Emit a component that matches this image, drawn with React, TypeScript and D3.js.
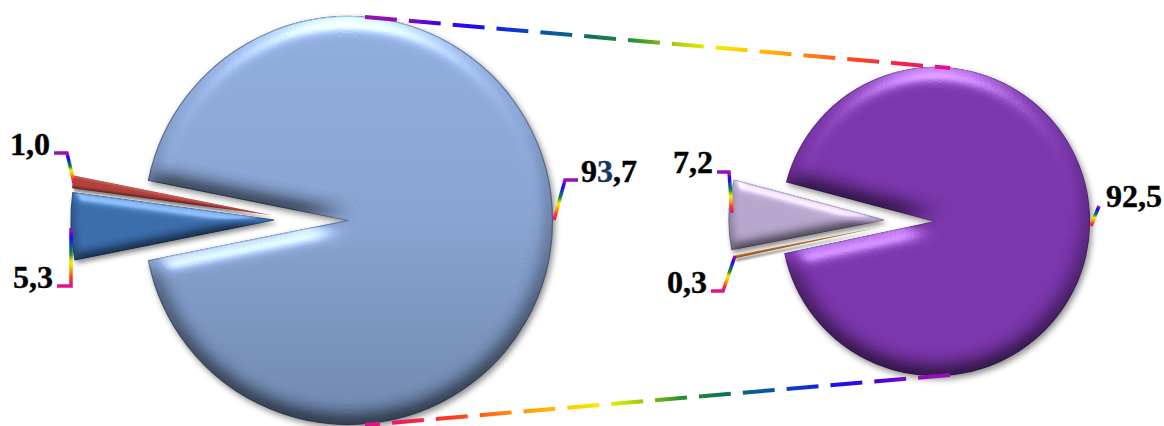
import { useMemo } from "react";
import * as d3 from "d3";

const width = 1164;
const height = 426;

// chart values
const leftLabels = ["93,7", "5,3", "1,0"];
const leftValues = [93.7, 5.3, 1.0];
const rightLabels = ["92,5", "0,3", "7,2"];
const rightValues = [92.5, 0.3, 7.2];

const deg = Math.PI / 180;

// layout of the two pies, one center per slice because they are pulled apart
const leftPie = {
  start: -78.66 * deg,
  radius: [204, 203, 203],
  centers: [[348.5, 220.5], [274, 220], [273, 215.5]],
  fills: ["url(#leftMain)", "#3a6cab", "#b0413c"],
  rims: ["#5d7396", "#2b5488", "none"],
  filters: ["url(#bevelBig)", "url(#bevelMid)", "url(#bevelThin)"],
};
const rightPie = {
  start: -75.1 * deg,
  radius: [154, 150, 155],
  centers: [[935.5, 221.5], [881, 227], [884, 220]],
  fills: ["#7834a8", "#b86a20", "#b5a5cb"],
  rims: ["#5f2a85", "none", "#8f82a5"],
  filters: ["url(#bevelBig)", "url(#bevelThin)", "url(#bevelMid)"],
};

const rainbow = [
  [0, "#9a10b0"],
  [0.06, "#8a10b8"],
  [0.12, "#4a00e0"],
  [0.2, "#1414f0"],
  [0.3, "#0a50b0"],
  [0.38, "#0a7060"],
  [0.46, "#2a9030"],
  [0.53, "#a8cc10"],
  [0.59, "#f4f000"],
  [0.67, "#ffc000"],
  [0.75, "#ff8a10"],
  [0.84, "#ff4020"],
  [0.93, "#f02050"],
  [1, "#e01090"],
] as const;

// purple end first
const connectors = [
  [[365, 17], [950, 68]],
  [[950, 375], [365, 425]],
];
const leaders = [
  [[54, 153], [67, 153], [74, 183]],
  [[71, 228], [71, 286], [57, 286]],
  [[578, 180], [565, 180], [554, 220]],
  [[717, 172], [729, 172], [732, 213]],
  [[735, 256], [723, 291], [711, 291]],
  [[1099, 206], [1091, 226]],
];
const texts: { label: string; x: number; y: number }[] = [
  { label: leftLabels[2], x: 10, y: 155 },
  { label: leftLabels[1], x: 13, y: 288 },
  { label: rightLabels[2], x: 673, y: 173 },
  { label: rightLabels[1], x: 667, y: 293 },
  { label: rightLabels[0], x: 1106, y: 207 },
];

function Bevel({ id, blur, scale, shadow, spec }: { id: string; blur: number; scale: number; shadow: number; spec: number }) {
  return (
    <filter
      id={id}
      filterUnits="userSpaceOnUse"
      x={0}
      y={0}
      width={width}
      height={height}
      colorInterpolationFilters="sRGB"
    >
      <feGaussianBlur in="SourceAlpha" stdDeviation={blur} result="h" />
      <feDiffuseLighting in="h" surfaceScale={scale} diffuseConstant={1.155} lightingColor="#fff" result="diff">
        <feDistantLight azimuth={270} elevation={60} />
      </feDiffuseLighting>
      <feSpecularLighting in="h" surfaceScale={scale} specularConstant={spec} specularExponent={30} lightingColor="#fff" result="spec">
        <feDistantLight azimuth={270} elevation={35} />
      </feSpecularLighting>
      <feComposite in="spec" in2="SourceAlpha" operator="in" result="specIn" />
      <feComposite in="SourceGraphic" in2="diff" operator="arithmetic" k1={1} k2={0} k3={0} k4={0} result="lit" />
      <feComposite in="lit" in2="specIn" operator="arithmetic" k1={0} k2={1} k3={1} k4={0} result="done" />
      <feGaussianBlur in="SourceAlpha" stdDeviation={shadow} result="sb" />
      <feOffset in="sb" dx={2} dy={3} result="so" />
      <feFlood floodColor="#000" floodOpacity={0.45} />
      <feComposite in2="so" operator="in" result="sc" />
      <feMerge>
        <feMergeNode in="sc" />
        <feMergeNode in="done" />
      </feMerge>
    </filter>
  );
}

function Pie({ values, cfg }: { values: number[]; cfg: typeof leftPie }) {
  const slices = useMemo(
    () =>
      d3
        .pie<number>()
        .sort(null)
        .startAngle(cfg.start)
        .endAngle(cfg.start + 2 * Math.PI)(values),
    [values, cfg]
  );
  return (
    <g>
      {slices.map((s, i) => {
        const path = d3.arc<d3.PieArcDatum<number>>().innerRadius(0).outerRadius(cfg.radius[i])(s) ?? "";
        // filter sits on the outer g so its region stays in page coordinates
        return (
          <g key={i} filter={cfg.filters[i]}>
            <path
              d={path}
              transform={`translate(${cfg.centers[i][0]},${cfg.centers[i][1]})`}
              fill={cfg.fills[i]}
              stroke={cfg.rims[i]}
              strokeWidth={1.2}
            />
          </g>
        );
      })}
    </g>
  );
}

export default function App() {
  const line = d3.line();
  return (
    <svg width={width} height={height} style={{ position: "absolute", left: 0, top: 0, background: "#fff" }}>
      <defs>
        <linearGradient id="leftMain" x1="0" y1="0" x2="0" y2="1">
          <stop offset="0" stopColor="#8fabdc" />
          <stop offset="0.5" stopColor="#86a1cf" />
          <stop offset="1" stopColor="#6e86ad" />
        </linearGradient>
        <Bevel id="bevelBig" blur={10} scale={9} shadow={3} spec={0.42} />
        <Bevel id="bevelMid" blur={6} scale={5} shadow={2.5} spec={0.35} />
        <Bevel id="bevelThin" blur={1.5} scale={1.2} shadow={1.2} spec={0.1} />
        {[...connectors, ...leaders].map((pts, i) => {
          const a = pts[0];
          const b = pts[pts.length - 1];
          const isConnector = i < connectors.length;
          return (
            <linearGradient
              key={i}
              id={`rb${i}`}
              gradientUnits="userSpaceOnUse"
              x1={isConnector ? a[0] : 0}
              y1={isConnector ? 0 : a[1]}
              x2={isConnector ? b[0] : 0}
              y2={isConnector ? 0 : b[1]}
            >
              {rainbow.map(([o, c]) => (
                <stop key={o} offset={o} stopColor={c} />
              ))}
            </linearGradient>
          );
        })}
      </defs>

      <Pie values={leftValues} cfg={leftPie} />
      <Pie values={rightValues} cfg={rightPie} />

      {connectors.map((pts, i) => (
        <path
          key={i}
          d={line(pts as [number, number][]) ?? ""}
          fill="none"
          stroke={`url(#rb${i})`}
          strokeWidth={4}
          strokeDasharray="32 12"
        />
      ))}
      {leaders.map((pts, i) => (
        <path
          key={i}
          d={line(pts as [number, number][]) ?? ""}
          fill="none"
          stroke={`url(#rb${i + connectors.length})`}
          strokeWidth={3.5}
        />
      ))}

      <g fontFamily="'Liberation Serif'" fontWeight="bold" fontSize={32} fill="#000" stroke="#000" strokeWidth={0.4}>
        {texts.map((t) => (
          <text key={t.label} x={t.x} y={t.y}>
            {t.label}
          </text>
        ))}
        <text x={581} y={182}>
          9<tspan fill="#17375e" stroke="#17375e">3</tspan>,7
        </text>
      </g>
    </svg>
  );
}
